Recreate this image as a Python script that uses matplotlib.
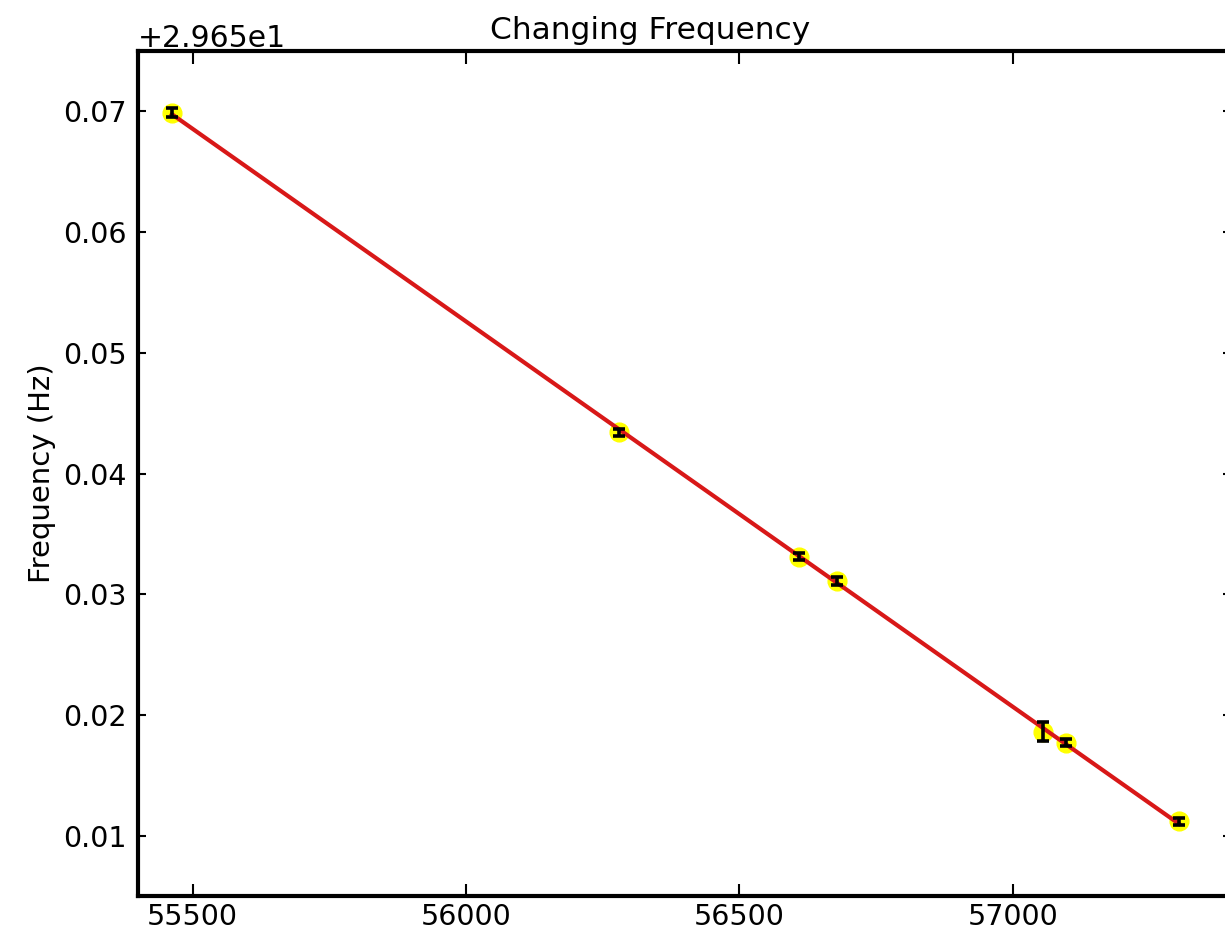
import matplotlib
matplotlib.use("Agg")
import matplotlib.pyplot as plt
import numpy as np

# ---- data -------------------------------------------------------------------
# MJD of each measurement and the measured spin frequency (Hz)
mjd = [55462, 56280, 56609, 56679, 57055, 57097, 57304]
freq = [29.7199, 29.6934, 29.6831, 29.6811, 29.6686, 29.6677, 29.6612]
freq_err = [0.0004, 0.0003, 0.0003, 0.0003, 0.0008, 0.0003, 0.0003]

plt.rcParams.update({
    "font.family": "DejaVu Sans",
    "font.size": 20.5,
    "axes.linewidth": 3.0,
    "xtick.direction": "in",
    "ytick.direction": "in",
    "xtick.top": True,
    "ytick.right": True,
    "xtick.major.size": 9,
    "ytick.major.size": 6,
    "xtick.major.width": 1.5,
    "ytick.major.width": 1.5,
    "xtick.major.pad": 5,
    "ytick.major.pad": 8,
})

fig = plt.figure(figsize=(12.25, 9.31), dpi=100)
ax = fig.add_axes([0.1127, 0.0376, 0.8925, 0.9076])

x = np.array(mjd, dtype=float)
y = np.array(freq)
# straight-line fit through the points
slope, icpt = np.polyfit(x, y, 1)

ax.plot(x, y, "o", color="yellow", mec="yellow", ms=13.5, zorder=1)
ax.plot(x, slope * x + icpt, color="#d81818", lw=3, zorder=2)
ax.errorbar(x, y, yerr=freq_err, fmt="none", ecolor="black",
            elinewidth=2.6, capsize=4.5, capthick=2.6, zorder=3)

ax.set_xlim(55400, 57400)
ax.set_ylim(29.655, 29.725)
ax.set_xticks([55500, 56000, 56500, 57000])
ax.set_yticks(np.arange(29.66, 29.7201, 0.01))
ax.ticklabel_format(axis="y", useOffset=29.65, style="plain")
ax.yaxis.get_offset_text().set_fontsize(21.5)

ax.set_ylabel("Frequency (Hz)", fontsize=21, labelpad=5)
ax.set_title("Changing Frequency", fontsize=22.5, x=0.468, pad=9)

fig.savefig("out.png", dpi=100)
